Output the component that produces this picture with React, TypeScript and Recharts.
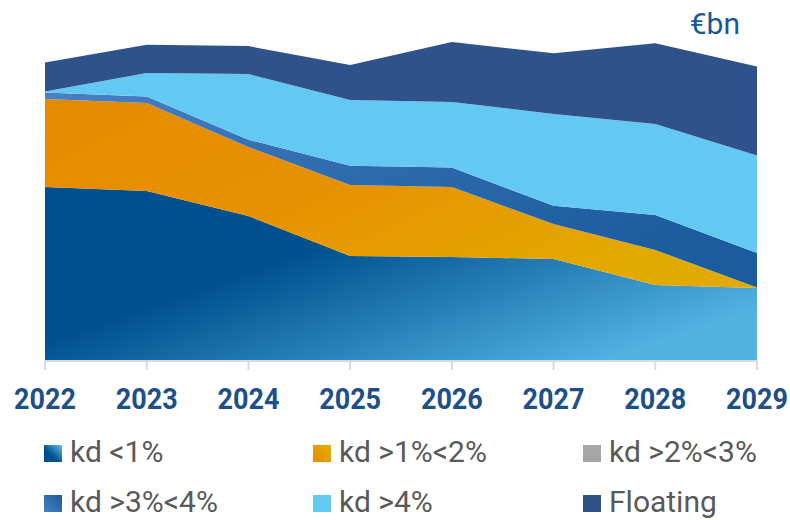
import React from 'react';
import { AreaChart, Area, XAxis, YAxis } from 'recharts';

const years = ['2022', '2023', '2024', '2025', '2026', '2027', '2028', '2029'];
const kdLt1 = [174, 170, 145, 105, 104, 102, 76, 73];
const kd1to2 = [88, 88, 69, 71, 70, 35, 35, 0.6];
const kd2to3 = [0, 0, 0, 0, 0, 0, 0, 0];
const kd3to4 = [6.5, 6.6, 7.3, 19.3, 19.4, 18.3, 35, 34.4];
const kdGt4 = [1, 23.4, 65.6, 65.7, 65.6, 91.7, 91, 97.6];
const floating = [29, 28.3, 28, 35, 60, 60.7, 80.7, 89];

const seriesNames = ['kd <1%', 'kd >1%<2%', 'kd >2%<3%', 'kd >3%<4%', 'kd >4%', 'Floating'];
const unitLabel = '€bn';

const data = years.map((y, i) => ({
  year: y,
  s0: kdLt1[i],
  s1: kd1to2[i],
  s2: kd2to3[i],
  s3: kd3to4[i],
  s4: kdGt4[i],
  s5: floating[i],
}));

const fills = ['url(#gLt1)', 'url(#g12)', '#a6a6a6', 'url(#g34)', '#63c9f2', '#30528a'];
const iconFills = ['url(#iLt1)', 'url(#i12)', '#a6a6a6', 'url(#i34)', '#63c9f2', '#2f5188'];

const legendPos = [
  { x: 44, y: 445 },
  { x: 313, y: 445 },
  { x: 583, y: 445 },
  { x: 44, y: 495 },
  { x: 313, y: 495 },
  { x: 583, y: 495 },
];

const Tick = (props: any) => {
  const { x, y, payload } = props;
  return (
    <text
      transform={`translate(${x},${y + 37}) scale(0.9,1)`}
      x={0}
      y={0}
      textAnchor="middle"
      fill="#1e4f88"
      fontFamily="Roboto, sans-serif"
      fontWeight="bold"
      fontSize={30}
    >
      {payload.value}
    </text>
  );
};

export default function App() {
  return (
    <div style={{ position: 'absolute', left: 0, top: 0, width: 790, height: 520, background: '#fff' }}>
      <AreaChart
        width={790}
        height={520}
        data={data}
        margin={{ top: 31, right: 33, left: 45, bottom: 99 }}
      >
        <defs>
          <linearGradient id="gLt1" x1="0" y1="0" x2="1" y2="0.7">
            <stop offset="0%" stopColor="#00508f" />
            <stop offset="42%" stopColor="#00508f" />
            <stop offset="100%" stopColor="#52b2e2" />
          </linearGradient>
          <linearGradient id="g12" x1="0" y1="0" x2="1" y2="0.6">
            <stop offset="0%" stopColor="#e68a00" />
            <stop offset="50%" stopColor="#e69200" />
            <stop offset="100%" stopColor="#e2aa00" />
          </linearGradient>
          <linearGradient id="g34" x1="0" y1="0" x2="1" y2="0.6">
            <stop offset="0%" stopColor="#4a80c4" />
            <stop offset="50%" stopColor="#2e6aad" />
            <stop offset="100%" stopColor="#1a5c9e" />
          </linearGradient>
        </defs>
        <YAxis hide domain={[0, 330]} />
        <XAxis
          dataKey="year"
          height={60}
          axisLine={{ stroke: '#d9d9d9', strokeWidth: 2 }}
          tickLine={{ stroke: '#d9d9d9', strokeWidth: 2 }}
          tickSize={9}
          tick={<Tick />}
          interval={0}
        />
        {['s0', 's1', 's2', 's3', 's4', 's5'].map((k, i) => (
          <Area
            key={k}
            dataKey={k}
            name={seriesNames[i]}
            stackId="1"
            type="linear"
            stroke="none"
            fill={fills[i]}
            fillOpacity={1}
            isAnimationActive={false}
            dot={false}
            activeDot={false}
          />
        ))}
      </AreaChart>
      <svg
        width={790}
        height={520}
        style={{ position: 'absolute', left: 0, top: 0, pointerEvents: 'none' }}
      >
        <defs>
          <linearGradient id="iLt1" x1="0" y1="1" x2="1" y2="0">
            <stop offset="0%" stopColor="#00508f" />
            <stop offset="40%" stopColor="#00508f" />
            <stop offset="100%" stopColor="#5cc0ee" />
          </linearGradient>
          <linearGradient id="i12" x1="0" y1="1" x2="1" y2="0">
            <stop offset="0%" stopColor="#e68a00" />
            <stop offset="100%" stopColor="#e3b000" />
          </linearGradient>
          <linearGradient id="i34" x1="0" y1="1" x2="1" y2="0">
            <stop offset="0%" stopColor="#4a80c4" />
            <stop offset="100%" stopColor="#1a5c9e" />
          </linearGradient>
        </defs>
        <text
          x={740}
          y={34}
          textAnchor="end"
          fill="#175a92"
          fontFamily="Roboto, sans-serif"
          fontSize={30}
        >
          {unitLabel}
        </text>
        {seriesNames.map((n, i) => (
          <g key={n}>
            <rect x={legendPos[i].x} y={legendPos[i].y} width={18} height={17} fill={iconFills[i]} />
            <text
              x={legendPos[i].x + 26}
              y={legendPos[i].y + 17}
              fill="#595959"
              fontFamily="Roboto, sans-serif"
              fontSize={30}
            >
              {n}
            </text>
          </g>
        ))}
      </svg>
    </div>
  );
}
